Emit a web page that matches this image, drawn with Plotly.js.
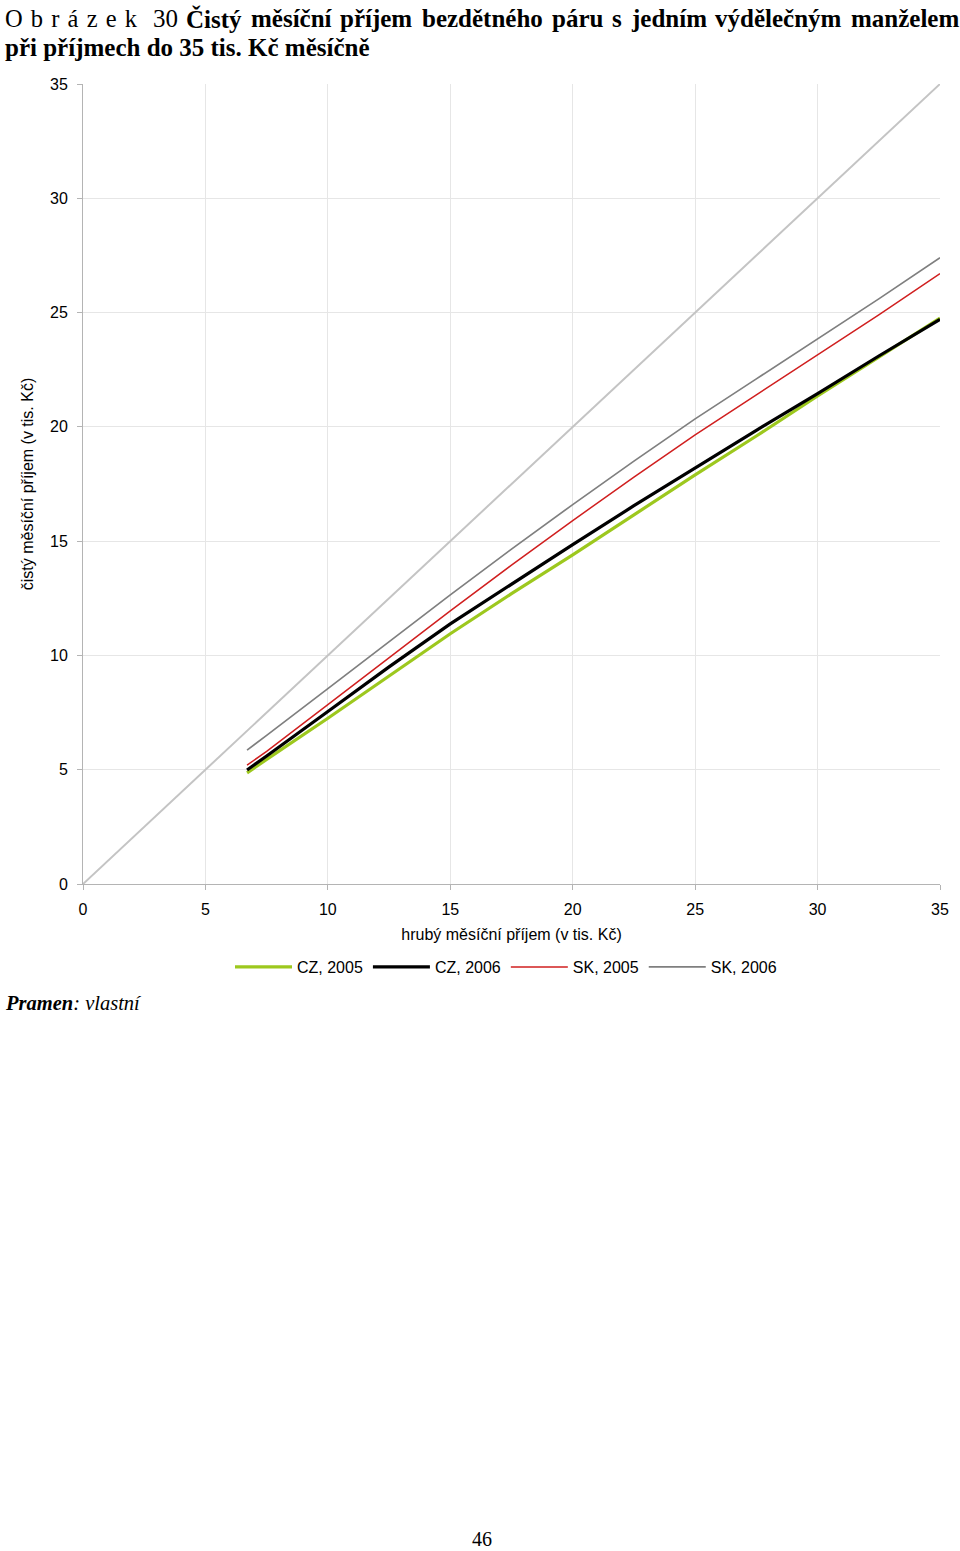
<!DOCTYPE html>
<html>
<head>
<meta charset="utf-8">
<script src="https://cdn.plot.ly/plotly-3.0.1.min.js"></script>
<style>
  html, body { margin: 0; padding: 0; background: #ffffff; }
  #chart { width: 960px; height: 1551px; }
</style>
</head>
<body>
<div id="chart"></div>
<script>
// ---- data (in thousand CZK) ----
const grossIncome = [6.7, 7.5, 10, 12.5, 15, 17.5, 20, 22.5, 25, 27.5, 30, 32.5, 35];
const netCZ2005   = [4.86, 5.45, 7.25, 9.10, 10.95, 12.70, 14.40, 16.15, 17.90, 19.60, 21.35, 23.05, 24.76];
const netCZ2006   = [4.99, 5.60, 7.55, 9.50, 11.38, 13.12, 14.85, 16.55, 18.20, 19.85, 21.45, 23.10, 24.70];
const netSK2005   = [5.20, 5.80, 7.85, 9.90, 11.95, 13.95, 15.90, 17.80, 19.65, 21.40, 23.15, 24.90, 26.70];
const netSK2006   = [5.86, 6.50, 8.55, 10.60, 12.65, 14.65, 16.60, 18.50, 20.35, 22.10, 23.85, 25.60, 27.40];
const diagonalX   = [0, 35];
const diagonalY   = [0, 35];
const seriesNames = ['CZ, 2005', 'CZ, 2006', 'SK, 2005', 'SK, 2006'];
const axisTicks   = [0, 5, 10, 15, 20, 25, 30, 35];

// ---- layout helpers (plot area in page pixels) ----
const W = 960, H = 1551;
const PL = 83, PR = 940, PT = 84, PB = 884;
const px2x = p => (p - PL) / (PR - PL);
const px2y = p => (PB - p) / (PB - PT);

const sans = 'Liberation Sans, Arial, sans-serif';
const serif = 'Liberation Serif, Times New Roman, serif';

const traces = [
  { x: diagonalX, y: diagonalY, mode: 'lines', showlegend: false, hoverinfo: 'skip',
    line: { color: '#c4c4c4', width: 2 } },
  { x: grossIncome, y: netCZ2005, name: seriesNames[0], mode: 'lines',
    line: { color: '#9dc81e', width: 3.2 } },
  { x: grossIncome, y: netCZ2006, name: seriesNames[1], mode: 'lines',
    line: { color: '#000000', width: 3.2 } },
  { x: grossIncome, y: netSK2005, name: seriesNames[2], mode: 'lines',
    line: { color: '#d01f1f', width: 1.5 } },
  { x: grossIncome, y: netSK2006, name: seriesNames[3], mode: 'lines',
    line: { color: '#7f7f7f', width: 1.7 } }
];

const axisCommon = {
  range: [0, 35], tickvals: axisTicks, ticktext: axisTicks.map(String),
  showgrid: true, gridcolor: '#e6e6e6', gridwidth: 1,
  showline: true, linecolor: '#b4b4b4', linewidth: 1,
  ticks: 'outside', ticklen: 5, tickcolor: '#b4b4b4',
  zeroline: false, fixedrange: true,
  tickfont: { family: sans, size: 16, color: '#000000' }
};

function note(text, xpx, ypx, anchor, size) {
  return { text: text, xref: 'paper', yref: 'paper', x: px2x(xpx), y: px2y(ypx),
    xanchor: anchor, yanchor: 'middle', showarrow: false,
    font: { family: serif, size: size, color: '#000000' } };
}

// justified first title line (bold words spread evenly between 185 px and 958 px)
const titleWords = ['Čistý', 'měsíční', 'příjem', 'bezdětného', 'páru', 's', 'jedním', 'výdělečným', 'manželem'];
const measureCtx = document.createElement('canvas').getContext('2d');
measureCtx.font = 'bold 25px "Liberation Serif", "Times New Roman", serif';
const wordW = titleWords.map(w => measureCtx.measureText(w).width);
const lineLeft = 185, lineRight = 958;
const gap = (lineRight - lineLeft - wordW.reduce((a, b) => a + b, 0)) / (titleWords.length - 1);
const titleAnnotations = [];
let cursor = lineLeft;
titleWords.forEach((w, i) => {
  titleAnnotations.push(note('<b>' + w + '</b>', cursor - 1, 19, 'left', 25));
  cursor += wordW[i] + gap;
});

const layout = {
  width: W, height: H,
  paper_bgcolor: '#ffffff', plot_bgcolor: '#ffffff',
  margin: { l: PL, r: W - PR, t: PT, b: H - PB, pad: 0 },
  font: { family: sans, size: 16, color: '#000000' },
  xaxis: Object.assign({}, axisCommon, {
    ticklabelstandoff: 6,
    title: { text: 'hrubý měsíční příjem (v tis. Kč)', font: { family: sans, size: 16 }, standoff: 11 }
  }),
  yaxis: Object.assign({}, axisCommon, {
    ticklabelstandoff: 6,
    title: { text: 'čistý měsíční příjem (v tis. Kč)', font: { family: sans, size: 16 }, standoff: 12 }
  }),
  showlegend: true,
  legend: {
    orientation: 'h', x: px2x(506), xanchor: 'center', y: px2y(967), yanchor: 'middle',
    font: { family: sans, size: 16, color: '#000000' },
    bgcolor: 'rgba(0,0,0,0)', itemwidth: 57, traceorder: 'normal'
  },
  annotations: [
    note('O &#8202;b &#8202;r &#8202;á &#8202;z &#8202;e &#8202;k', 3, 19, 'left', 24.5),
    note('30', 151, 19, 'left', 25)
  ].concat(titleAnnotations, [
    note('<b>při příjmech do 35 tis. Kč měsíčně</b>', 3, 47, 'left', 25),
    note('<b><i>Pramen</i></b><i>: vlastní</i>', 3, 1003, 'left', 20.5),
    note('46', 482, 1539, 'center', 20)
  ])
};

Plotly.newPlot('chart', traces, layout, { displayModeBar: false, staticPlot: true });
</script>
</body>
</html>
